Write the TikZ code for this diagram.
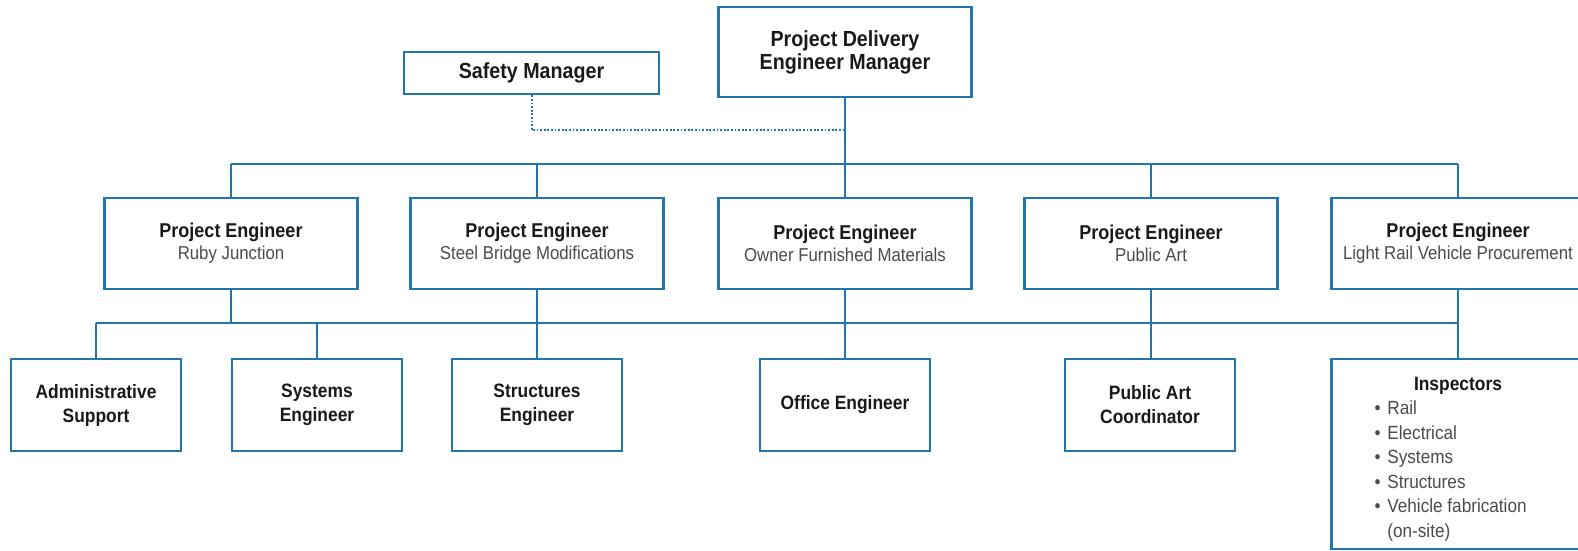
\documentclass[tikz,border=0pt]{standalone}
\usepackage{fontspec}
\setmainfont{Liberation Sans}[FakeStretch=0.9]
\definecolor{lineblue}{RGB}{34,118,176}
\definecolor{txtdark}{RGB}{25,25,25}
\definecolor{txtgray}{RGB}{75,75,75}
\begin{document}
\begin{tikzpicture}[x=0.75pt,y=-0.75pt,
  box/.style={draw=lineblue, line width=2.2pt, fill=white, inner sep=0pt, align=center, text=txtdark},
  topbox/.style={box, font=\fontsize{16.4pt}{17.25pt}\selectfont\bfseries},
  pebox/.style={box, minimum width=189.75pt, minimum height=68.25pt, font=\fontsize{14pt}{16.5pt}\selectfont},
  leafbox/.style={box, minimum width=127.5pt, minimum height=69pt, font=\fontsize{14.5pt}{18pt}\selectfont\bfseries},
  conn/.style={draw=lineblue, line width=1.9pt},
  dotconn/.style={draw=lineblue, line width=1.5pt, dash pattern=on 1.3pt off 1.4pt}
]
\useasboundingbox (0,0) rectangle (1578,550);
\clip (0,0) rectangle (1578,550);
\fill[white] (0,0) rectangle (1578,550);

% coordinates of bus lines
\coordinate (b1) at (0,164);
\coordinate (b2) at (0,323);
\coordinate (dl) at (0,130);

% top level
\node[topbox, minimum width=189.75pt, minimum height=67.5pt] (pdem) at (845,52) {Project Delivery\\Engineer Manager};
\node[topbox, minimum width=191.25pt, minimum height=31.5pt] (safety) at (531.5,73) {Safety Manager};

% project engineers
\newcommand{\petitle}[1]{{\fontsize{15pt}{16.5pt}\selectfont\bfseries #1}}
\node[pebox] (pe1) at (231,243.5) {\petitle{Project Engineer}\\{\color{txtgray}Ruby Junction}};
\node[pebox] (pe2) at (537,243.5) {\petitle{Project Engineer}\\{\color{txtgray}Steel Bridge Modifications}};
\node[pebox] (pe3) at (845,243.5) {\petitle{Project Engineer}\\{\color{txtgray}Owner Furnished Materials}};
\node[pebox] (pe4) at (1151,243.5) {\petitle{Project Engineer}\\{\color{txtgray}Public Art}};
\node[pebox] (pe5) at (1458,243.5) {\petitle{Project Engineer}\\{\color{txtgray}Light Rail Vehicle Procurement}};

% leaves
\node[leafbox] (admin) at (96,405) {Administrative\\Support};
\node[leafbox] (sys) at (317,405) {Systems\\Engineer};
\node[leafbox] (struct) at (537,405) {Structures\\Engineer};
\node[leafbox] (office) at (845,405) {Office Engineer};
\node[leafbox] (pac) at (1150,405) {Public Art\\Coordinator};
\node[box, minimum width=189.75pt, minimum height=142.5pt, font=\fontsize{14.3pt}{18.4pt}\selectfont] (insp) at (1458,454)
 {\raisebox{0pt}[\height][\dimexpr\depth-7.5pt\relax]{\begin{tabular}{@{}l@{\hspace{5pt}}l@{\hspace{11pt}}}
   \multicolumn{2}{@{}c@{}}{\fontsize{14.5pt}{18.4pt}\selectfont\bfseries Inspectors}\\
   \color{txtgray}\textbullet & \color{txtgray}Rail\\
   \color{txtgray}\textbullet & \color{txtgray}Electrical\\
   \color{txtgray}\textbullet & \color{txtgray}Systems\\
   \color{txtgray}\textbullet & \color{txtgray}Structures\\
   \color{txtgray}\textbullet & \color{txtgray}Vehicle fabrication\\
   & \color{txtgray}(on-site)
  \end{tabular}}};

% connectors
\draw[conn] (pdem.south) -- (pdem.south |- b1);
\draw[conn] (pe1.north |- b1) -- (pe5.north |- b1);
\foreach \n in {1,...,5} { \draw[conn] (pe\n.north) -- (pe\n.north |- b1); }
\draw[conn] (admin.north |- b2) -- (pe5.south |- b2);
\draw[conn] (pe1.south) -- (pe1.south |- b2);
\draw[conn] (admin.north) -- (admin.north |- b2);
\draw[conn] (sys.north) -- (sys.north |- b2);
\draw[conn] (pe2.south) -- (struct.north);
\draw[conn] (pe3.south) -- (office.north);
\draw[conn] (pe4.south) -- (pe4.south |- pac.north);
\draw[conn] (pe5.south) -- (insp.north);
\draw[dotconn] (safety.south) -- (safety.south |- dl) -- (pdem.south |- dl);
\end{tikzpicture}
\end{document}
